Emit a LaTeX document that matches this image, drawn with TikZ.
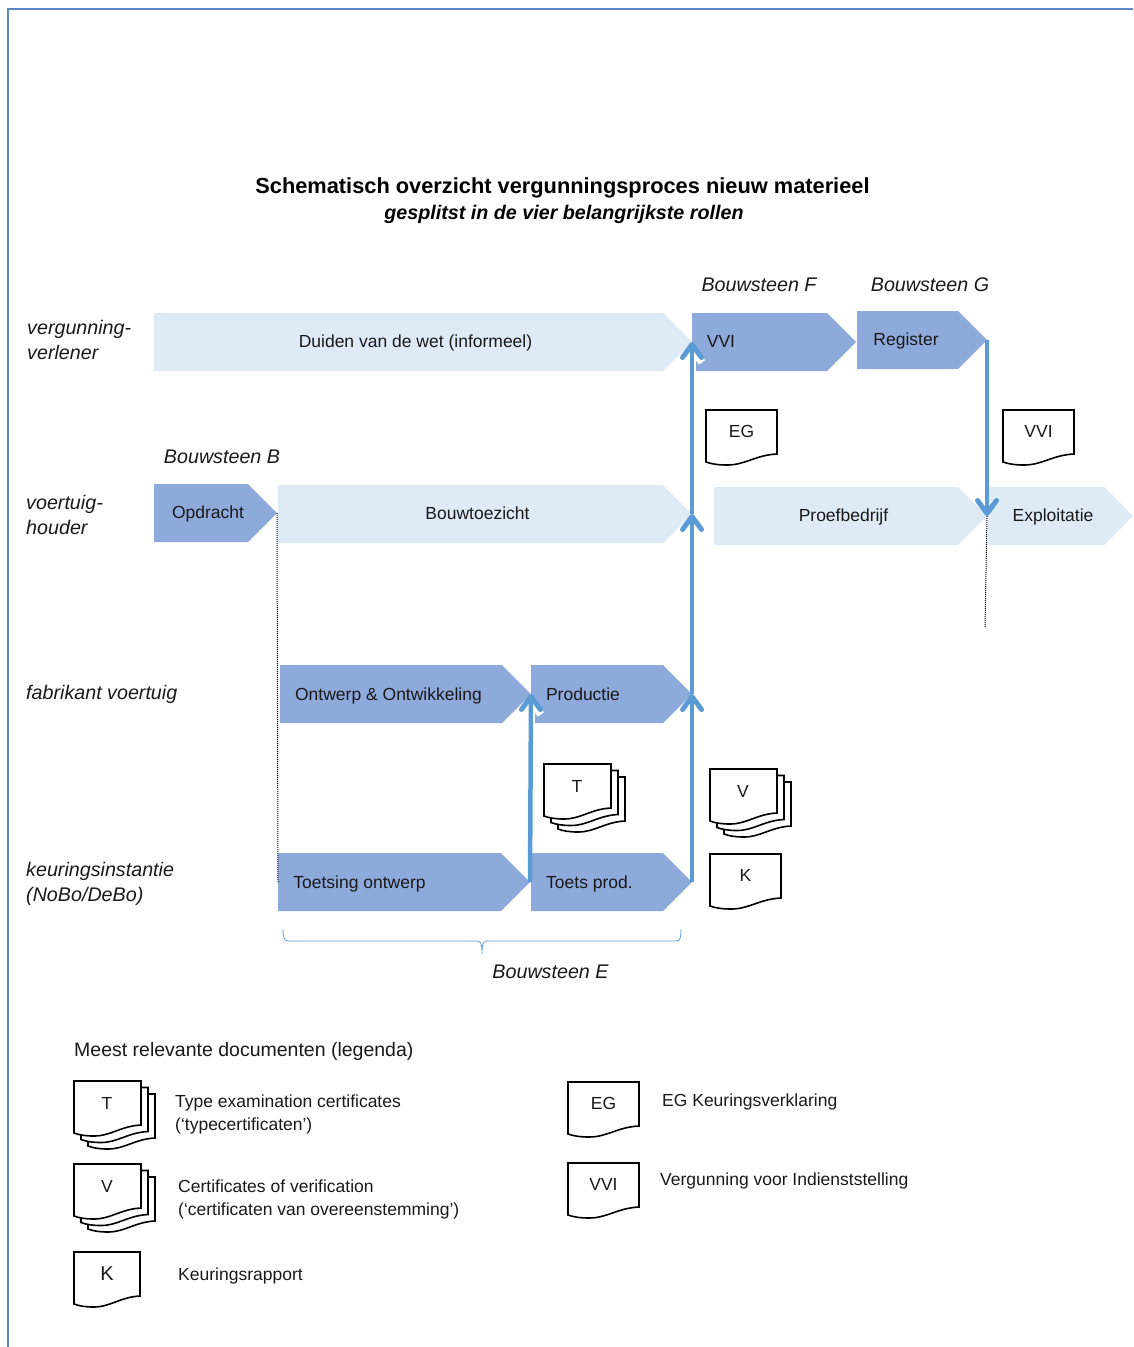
\documentclass[tikz,border=0pt]{standalone}
\usepackage{fontspec}
\setmainfont{Liberation Sans}
\usetikzlibrary{arrows.meta,shapes.symbols}
\definecolor{donker}{HTML}{8EAADB}
\definecolor{licht}{HTML}{DEEAF6}
\definecolor{pijlblauw}{HTML}{5B9BD5}
\definecolor{kader}{HTML}{5B87C5}
\tikzset{
  stap/.style={signal, signal to=east, signal pointer angle=90, minimum height=58pt,
    inner sep=0pt, outer sep=0pt, anchor=west},
  tekst/.style={font=\fontsize{17.5}{23}\selectfont, inner sep=0pt, align=left, text=black!90},
  staptekst/.style={tekst, text height=16pt, text depth=4pt},
  schuin/.style={font=\fontsize{19.7}{25}\itshape\selectfont, inner sep=0pt, align=left, text=black!90},
  pijl/.style={pijlblauw, line width=4.5pt, -{Straight Barb[round,length=13pt,width=19pt,line width=5pt]}},
  rand/.style={preaction={draw=white, line width=8pt, shorten <=100pt, -{Straight Barb[length=14pt,width=20pt,line width=7.5pt]}}},
  puntlijn/.style={densely dotted, line width=1pt},
  blad/.style={fill=white, draw=black, line width=1.6pt, line join=miter},
}
\newcommand{\blad}[3]{% x, y, breedte
\draw[blad] ({#1},{#2})--({#1+#3},{#2})--({#1+#3},{#2+44})
  .. controls ({#1+0.7*#3},{#2+45}) and ({#1+0.55*#3},{#2+55}) .. ({#1+0.3*#3},{#2+55})
  .. controls ({#1+0.17*#3},{#2+55}) and ({#1+0.08*#3},{#2+54}) .. ({#1},{#2+52}) -- cycle;
}
\newcommand{\enkel}[5]{% naam, x, y, breedte, letter
\blad{#2}{#3}{#4}
\node[tekst] (#1) at ({#2+#4/2},{#3+21.5}) {#5};
}
\newcommand{\stapel}[4]{% naam, x, y, letter
\foreach \d in {2,1,0} {
\blad{#2+\d*7}{#3+\d*6.5}{67}
}
\node[tekst] (#1) at ({#2+33},{#3+22.5}) {#4};
}

\begin{document}
\begin{tikzpicture}[x=1pt,y=-1pt]
\useasboundingbox (0,0) rectangle (1133,1347);
\draw[kader, line width=1.6pt] (8,1347)--(8,9)--(1133,9);

\node[inner sep=0pt, font=\fontsize{21.8}{25}\bfseries\selectfont] (titel) at (562.5,188)
  {Schematisch overzicht vergunningsproces nieuw materieel};
\node[inner sep=0pt, font=\fontsize{19.7}{25}\bfseries\itshape\selectfont] (subtitel) at (564,214)
  {gesplitst in de vier belangrijkste rollen};

% rollen
\node[schuin, anchor=west] (rol1) at (27,340) {vergunning-\\verlener};
\node[schuin, anchor=west] (rol2) at (26,515) {voertuig-\\houder};
\node[schuin, anchor=west] (rol3) at (26,694) {fabrikant voertuig};
\node[schuin, anchor=west] (rol4) at (26,884) {keuringsinstantie\\(NoBo/DeBo)};

\node[schuin] (bouwsteenF) at (759,285) {Bouwsteen F};
\node[schuin] (bouwsteenG) at (930,285) {Bouwsteen G};
\node[schuin] (bouwsteenB) at (222,457) {Bouwsteen B};
\node[schuin] (bouwsteenE) at (550.5,972) {Bouwsteen E};

% stappen
\foreach \naam/\x/\y/\b/\kleur/\tx/\ty/\tekst in {
duiden/154/342/538/licht/415.5/341/Duiden van de wet (informeel),
vvi/692/342/164/donker/721/341/VVI,
register/857/340/130/donker/906/339/Register,
opdracht/154/513/123/donker/208/512/Opdracht,
bouw/278/514/414/licht/477.5/513/Bouwtoezicht,
proef/714/516/273/licht/843.5/515/Proefbedrijf,
expl/988/516/145/licht/1053/515/Exploitatie,
ontwerp/280/694/251/donker/388.5/694/Ontwerp \& Ontwikkeling,
productie/531/694/161/donker/583/694/Productie,
toetsing/278/882/252/donker/359.5/882/Toetsing ontwerp,
toets/531/882/161/donker/589.5/882/Toets prod.} {
\node[stap, fill=\kleur, minimum width=\b pt] (\naam) at (\x,\y) {};
\node[staptekst] (\naam-t) at (\tx,\ty) {\tekst};
}

\coordinate (einde) at (985,628);
\draw[puntlijn] (opdracht.east)--(toetsing.west);
\draw[puntlijn] (proef.east)--(einde);

\draw[pijl, rand] (toetsing.east)--(ontwerp.east);
\draw[pijl] (toets.east)--(productie.east);
\draw[pijl] (productie.east)--(bouw.east);
\draw[pijl, rand] (bouw.east)--(duiden.east);
\draw[pijl] (register.east)--(proef.east);

% accolade
\coordinate (midden) at (482,954);
\draw[pijlblauw, line width=0.8pt] (283,929) .. controls (283,938) and (284,941) .. (289,941)
  -- (477,941) .. controls (480,941) and (482,942) .. (midden)
  .. controls (482,942) and (484,941) .. (487,941)
  -- (676,941) .. controls (680,941) and (681,938) .. (681,929);

% documenten
\enkel{docEG}{706}{410}{71}{EG}
\enkel{docVVI}{1003}{410}{71}{VVI}
\enkel{docK}{710}{854}{71}{K}
\stapel{docT}{544}{764}{T}
\stapel{docV}{710}{769}{V}

% legenda
\node[tekst, anchor=west, font=\fontsize{19.5}{25}\selectfont] (legenda) at (74,1051) {Meest relevante documenten (legenda)};
\stapel{legT}{74}{1081}{T}
\stapel{legV}{74}{1164}{V}
\enkel{legK}{74}{1252}{66}{\raisebox{-2pt}{\fontsize{20}{25}\selectfont K}}
\enkel{legEG}{568}{1082}{71}{EG}
\enkel{legVVI}{568}{1163}{71}{VVI}
\node[tekst, anchor=west] (uitlegT) at (175,1114.5) {Type examination certificates\\(‘typecertificaten’)};
\node[tekst, anchor=west] (uitlegV) at (178,1199.5) {Certificates of verification\\(‘certificaten van overeenstemming’)};
\node[tekst, anchor=west] (uitlegK) at (178,1276) {Keuringsrapport};
\node[tekst, anchor=west] (uitlegEG) at (662,1102) {EG Keuringsverklaring};
\node[tekst, anchor=west] (uitlegVVI) at (660,1181) {Vergunning voor Indienststelling};

\end{tikzpicture}
\end{document}
